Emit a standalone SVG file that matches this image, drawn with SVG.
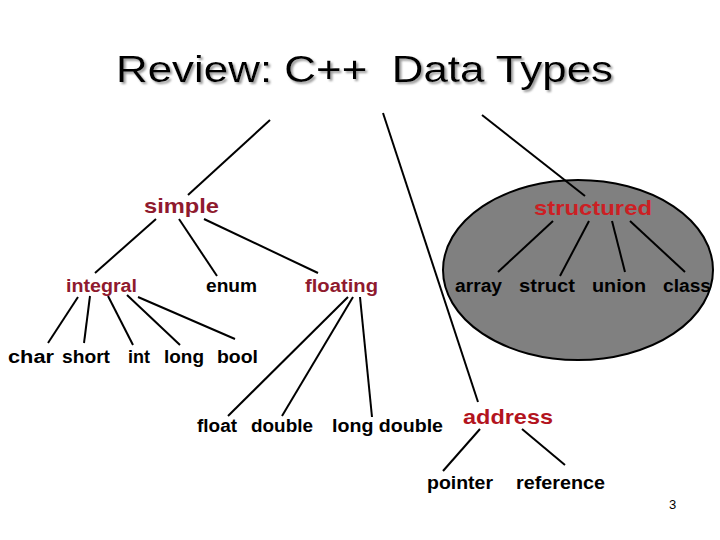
<svg xmlns="http://www.w3.org/2000/svg" width="720" height="540" viewBox="0 0 720 540">
<defs>
<filter id="shadow" x="-5%" y="-20%" width="110%" height="150%">
<feDropShadow dx="2" dy="2" stdDeviation="0.8" flood-color="#9a9a9a" flood-opacity="1"/>
</filter>
</defs>
<style>
text{font-family:"Liberation Sans",Arial,sans-serif;}
.t{font-size:36px;}
.lbl{font-size:18px;font-weight:bold;fill:#000;}
.big{font-size:21px;font-weight:bold;}
.mar{fill:#8f1a2e;}
.red{fill:#cc1f24;}
.adr{fill:#b3141e;}
#connectors line{stroke:#000;stroke-width:2;}
</style>
<rect width="720" height="540" fill="#fff"/>
<g id="title">
<text class="t" x="116" y="82" fill="#000" filter="url(#shadow)" xml:space="preserve" textLength="497" lengthAdjust="spacingAndGlyphs">Review: C++  Data Types</text>
</g>
<ellipse id="structured-region" cx="578" cy="270" rx="135" ry="90" fill="#808080" stroke="#000" stroke-width="2"/>
<g id="connectors">
<line x1="270" y1="120" x2="188" y2="195"/>
<line x1="383" y1="113" x2="478" y2="402"/>
<line x1="482" y1="115" x2="585" y2="196"/>
<line x1="156" y1="219" x2="95" y2="273"/>
<line x1="179" y1="219" x2="217" y2="276"/>
<line x1="204" y1="219" x2="318" y2="273"/>
<line x1="553" y1="221" x2="498" y2="272"/>
<line x1="589" y1="221" x2="560" y2="276"/>
<line x1="612" y1="221" x2="625" y2="272"/>
<line x1="630" y1="221" x2="685" y2="272"/>
<line x1="78" y1="297" x2="48" y2="343"/>
<line x1="90" y1="296" x2="84" y2="343"/>
<line x1="108" y1="296" x2="133" y2="345"/>
<line x1="127" y1="295" x2="180" y2="345"/>
<line x1="138" y1="297" x2="235" y2="339"/>
<line x1="348" y1="297" x2="228" y2="416"/>
<line x1="353" y1="297" x2="282" y2="416"/>
<line x1="360" y1="297" x2="372" y2="417"/>
<line x1="480" y1="429" x2="443" y2="471"/>
<line x1="522" y1="429" x2="565" y2="465"/>
</g>
<g id="simple"><text class="big mar" x="144" y="213" textLength="75" lengthAdjust="spacingAndGlyphs">simple</text></g>
<g id="structured"><text class="big red" x="534" y="215" textLength="118" lengthAdjust="spacingAndGlyphs">structured</text></g>
<g id="integral"><text class="lbl mar" x="66" y="292" textLength="71" lengthAdjust="spacingAndGlyphs">integral</text></g>
<g id="enum"><text class="lbl" x="206" y="292" textLength="51" lengthAdjust="spacingAndGlyphs">enum</text></g>
<g id="floating"><text class="lbl mar" x="305" y="292" textLength="73" lengthAdjust="spacingAndGlyphs">floating</text></g>
<g id="array"><text class="lbl" x="455" y="292" textLength="47" lengthAdjust="spacingAndGlyphs">array</text></g>
<g id="struct"><text class="lbl" x="519" y="292" textLength="56" lengthAdjust="spacingAndGlyphs">struct</text></g>
<g id="union"><text class="lbl" x="592" y="292" textLength="54" lengthAdjust="spacingAndGlyphs">union</text></g>
<g id="class"><text class="lbl" x="663" y="292" textLength="48" lengthAdjust="spacingAndGlyphs">class</text></g>
<g id="char"><text class="lbl" x="8" y="363" textLength="46" lengthAdjust="spacingAndGlyphs">char</text></g>
<g id="short"><text class="lbl" x="62" y="363" textLength="48" lengthAdjust="spacingAndGlyphs">short</text></g>
<g id="int"><text class="lbl" x="128" y="363" textLength="22" lengthAdjust="spacingAndGlyphs">int</text></g>
<g id="long"><text class="lbl" x="164" y="363" textLength="40" lengthAdjust="spacingAndGlyphs">long</text></g>
<g id="bool"><text class="lbl" x="217" y="363" textLength="41" lengthAdjust="spacingAndGlyphs">bool</text></g>
<g id="float"><text class="lbl" x="197" y="432" textLength="40" lengthAdjust="spacingAndGlyphs">float</text></g>
<g id="double"><text class="lbl" x="251" y="432" textLength="62" lengthAdjust="spacingAndGlyphs">double</text></g>
<g id="long-double"><text class="lbl" x="332" y="432" textLength="111" lengthAdjust="spacingAndGlyphs">long double</text></g>
<g id="address"><text class="big adr" x="463" y="424" textLength="90" lengthAdjust="spacingAndGlyphs">address</text></g>
<g id="pointer"><text class="lbl" x="427" y="489" textLength="66" lengthAdjust="spacingAndGlyphs">pointer</text></g>
<g id="reference"><text class="lbl" x="516" y="489" textLength="89" lengthAdjust="spacingAndGlyphs">reference</text></g>
<g id="page"><text x="669" y="509" font-size="13" fill="#000">3</text></g>
</svg>
